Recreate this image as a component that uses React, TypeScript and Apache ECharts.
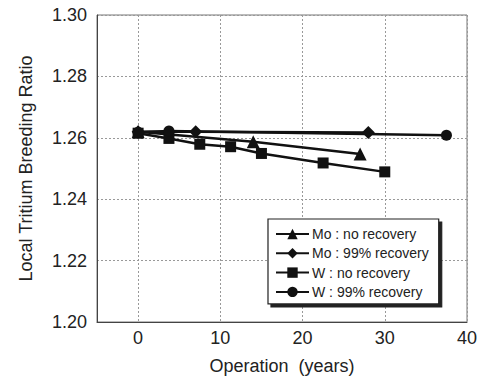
import React, { useEffect, useRef } from "react";
import * as echarts from "echarts";

const seriesNames = ["Mo : no recovery", "Mo : 99% recovery", "W : no recovery", "W : 99% recovery"];
const seriesSymbols = ["triangle", "diamond", "rect", "circle"];
const seriesSizes = [13, 13, 11, 11];

const moNoRecovery: [number, number][] = [[0, 1.262], [14, 1.2587], [27, 1.2547]];
const mo99Recovery: [number, number][] = [[0, 1.262], [7, 1.262], [28, 1.2617]];
const wNoRecovery: [number, number][] = [[0, 1.2615], [3.75, 1.2598], [7.5, 1.2579], [11.25, 1.2571], [15, 1.2549], [22.5, 1.2518], [30, 1.2489]];
const w99Recovery: [number, number][] = [[0, 1.2618], [3.75, 1.2622], [37.5, 1.2608]];

const seriesData = [moNoRecovery, mo99Recovery, wNoRecovery, w99Recovery];

const FONT = "'Liberation Sans', Arial, Helvetica, sans-serif";

export default function App() {
  const ref = useRef<HTMLDivElement>(null);
  useEffect(() => {
    if (!ref.current) return;
    const chart = echarts.init(ref.current, null, { renderer: "svg" });
    chart.setOption({
      animation: false,
      backgroundColor: "#ffffff",
      textStyle: { fontFamily: FONT },
      grid: { left: 97, right: 17, top: 15, bottom: 56, show: true, borderColor: "#777", borderWidth: 1 },
      xAxis: {
        type: "value",
        min: -5,
        max: 40,
        name: "Operation  (years)",
        nameLocation: "middle",
        nameGap: 35,
        nameTextStyle: { fontSize: 18, color: "#222", fontFamily: FONT },
        axisLine: { show: true, onZero: false, lineStyle: { color: "#444", width: 1 } },
        axisTick: { show: false },
        axisLabel: { fontSize: 18, color: "#222", margin: 7, showMinLabel: false, fontFamily: FONT },
        splitLine: { show: true, lineStyle: { color: "#999", type: [2, 2], width: 1 } },
      },
      yAxis: {
        type: "value",
        min: 1.2,
        max: 1.3,
        interval: 0.02,
        name: "Local Tritium Breeding Ratio",
        nameLocation: "middle",
        nameGap: 62,
        nameTextStyle: { fontSize: 18, color: "#222", fontFamily: FONT },
        axisLine: { show: true, onZero: false, lineStyle: { color: "#444", width: 1 } },
        axisTick: { show: false },
        axisLabel: { fontSize: 18, color: "#222", margin: 10, fontFamily: FONT, formatter: (v: number) => v.toFixed(2) },
        splitLine: { show: true, lineStyle: { color: "#999", type: [2, 2], width: 1 } },
      },
      legend: {
        orient: "vertical",
        left: 268,
        top: 219,
        padding: [8, 10, 5, 7],
        itemWidth: 33,
        itemHeight: 13,
        itemGap: 5.3,
        backgroundColor: "#fff",
        borderColor: "#222",
        borderWidth: 1.2,
        shadowColor: "#222",
        shadowBlur: 0,
        shadowOffsetX: 3,
        shadowOffsetY: 3,
        textStyle: { fontSize: 14, color: "#222", fontFamily: FONT, padding: [0, 0, 0, -2] },
        data: seriesNames,
      },
      series: seriesNames.map((name, i) => ({
        name,
        type: "line",
        data: seriesData[i],
        symbol: seriesSymbols[i],
        symbolSize: seriesSizes[i],
        showSymbol: true,
        lineStyle: { color: "#111", width: 2.5 },
        itemStyle: { color: "#111" },
      })),
    });
    return () => chart.dispose();
  }, []);
  return <div ref={ref} style={{ width: 484, height: 380, position: "absolute", left: 0, top: 0 }} />;
}
